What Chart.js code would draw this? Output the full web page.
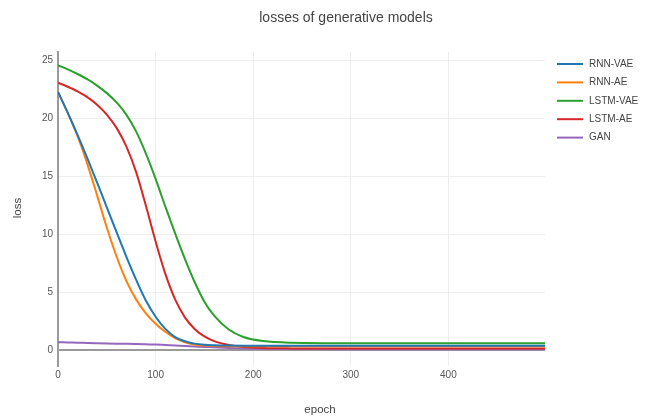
<!DOCTYPE html>
<html>
<head>
<meta charset="utf-8">
<title>losses of generative models</title>
<script src="https://cdn.jsdelivr.net/npm/chart.js@4/dist/chart.umd.min.js"></script>
<style>
  html, body { margin: 0; padding: 0; background: #fff; }
  #wrap { width: 648px; height: 418px; }
</style>
</head>
<body>
<div id="wrap"><canvas id="lossChart" width="648" height="418"></canvas></div>
<script>
// ================= DATA =================
const epochs = [0, 10, 20, 30, 40, 50, 60, 70, 80, 90, 100, 110, 120, 130, 140, 150, 160, 175, 190, 210, 240, 300, 400, 499];

const rnnVae = [22.3, 20.5, 18.6, 16.6, 14.5, 12.35, 10.2, 8.1, 6.1, 4.3, 2.9, 1.85, 1.15, 0.78, 0.58, 0.48, 0.44, 0.41, 0.4, 0.4, 0.4, 0.4, 0.4, 0.4];
const rnnAe = [22.3, 20.5, 18.5, 16.1, 13.4, 10.6, 8.1, 6.0, 4.4, 3.2, 2.3, 1.6, 1.05, 0.7, 0.5, 0.41, 0.37, 0.35, 0.35, 0.35, 0.35, 0.35, 0.35, 0.35];
const lstmVae = [24.6, 24.25, 23.85, 23.4, 22.85, 22.2, 21.4, 20.35, 18.9, 17.0, 14.8, 12.4, 10.1, 7.9, 5.9, 4.2, 3.0, 1.8, 1.15, 0.8, 0.66, 0.62, 0.62, 0.62];
const lstmAe = [23.1, 22.75, 22.35, 21.85, 21.2, 20.35, 19.2, 17.6, 15.4, 12.5, 9.4, 6.6, 4.4, 2.85, 1.85, 1.2, 0.8, 0.47, 0.3, 0.21, 0.17, 0.15, 0.15, 0.15];
const gan = [0.7, 0.68, 0.66, 0.64, 0.62, 0.6, 0.58, 0.56, 0.54, 0.52, 0.5, 0.46, 0.42, 0.38, 0.34, 0.3, 0.26, 0.2, 0.16, 0.13, 0.11, 0.1, 0.1, 0.1];

const seriesNames = ["RNN-VAE", "RNN-AE", "LSTM-VAE", "LSTM-AE", "GAN"];
const seriesValues = [rnnVae, rnnAe, lstmVae, lstmAe, gan];
const seriesColors = ["#1f77b4", "#ff7f0e", "#2ca02c", "#d62728", "#9467bd"];

const xTicks = [0, 100, 200, 300, 400];
const yTicks = [0, 5, 10, 15, 20, 25];

const FONT = "'Liberation Sans', Arial, sans-serif";

// ================= TEXT + LEGEND =================
const plotText = {
  id: "plotText",
  afterDraw(chart) {
    const ctx = chart.ctx;
    ctx.save();
    ctx.fillStyle = "#444";
    ctx.textBaseline = "middle";

    // title
    ctx.textAlign = "center";
    ctx.font = "14px " + FONT;
    ctx.fillText("losses of generative models", 346, 18);

    // axis titles
    ctx.font = "11.5px " + FONT;
    ctx.fillText("epoch", 320, 410);
    ctx.save();
    ctx.translate(18, 208);
    ctx.rotate(-Math.PI / 2);
    ctx.fillText("loss", 0, 0);
    ctx.restore();

    // legend
    ctx.textAlign = "left";
    ctx.font = "10px " + FONT;
    chart.data.datasets.forEach((ds, i) => {
      const y = 64 + i * 18.4;
      ctx.strokeStyle = ds.borderColor;
      ctx.lineWidth = 2;
      ctx.beginPath();
      ctx.moveTo(557, y);
      ctx.lineTo(583, y);
      ctx.stroke();
      ctx.fillStyle = "#444";
      ctx.fillText(ds.label, 589, y);
    });
    ctx.restore();
  },
};

// ================= CHART =================
const datasets = seriesNames.map((name, i) => ({
  label: name,
  data: epochs.map((e, j) => ({ x: e, y: seriesValues[i][j] })),
  borderColor: seriesColors[i],
  backgroundColor: seriesColors[i],
  borderWidth: 2,
  pointRadius: 0,
  cubicInterpolationMode: "monotone",
  fill: false,
}));

new Chart(document.getElementById("lossChart"), {
  type: "line",
  data: { datasets },
  options: {
    responsive: false,
    animation: false,
    layout: { padding: { top: 52, right: 103, left: 0, bottom: 0 } },
    plugins: {
      legend: { display: false },
      title: { display: false },
      tooltip: { enabled: false },
    },
    scales: {
      x: {
        type: "linear",
        min: 0,
        max: 499,
        afterFit: (s) => { s.height = 52; },
        afterBuildTicks: (s) => { s.ticks = xTicks.map((v) => ({ value: v })); },
        grid: { color: "#eeeeee", lineWidth: 1, drawTicks: false },
        border: { display: false },
        ticks: {
          padding: 3,
          color: "#555",
          font: { family: FONT, size: 10 },
          maxRotation: 0,
        },
      },
      y: {
        type: "linear",
        min: -1.35,
        max: 25.75,
        afterFit: (s) => { s.width = 58; },
        afterBuildTicks: (s) => { s.ticks = yTicks.map((v) => ({ value: v })); },
        grid: {
          drawTicks: false,
          color: (c) => (c.tick && c.tick.value === 0 ? "#9a9a9a" : "#eeeeee"),
          lineWidth: (c) => (c.tick && c.tick.value === 0 ? 2 : 1),
        },
        border: { display: true, color: "#9a9a9a", width: 2 },
        ticks: {
          padding: 5,
          color: "#555",
          font: { family: FONT, size: 10 },
        },
      },
    },
  },
  plugins: [plotText],
});
</script>
</body>
</html>
